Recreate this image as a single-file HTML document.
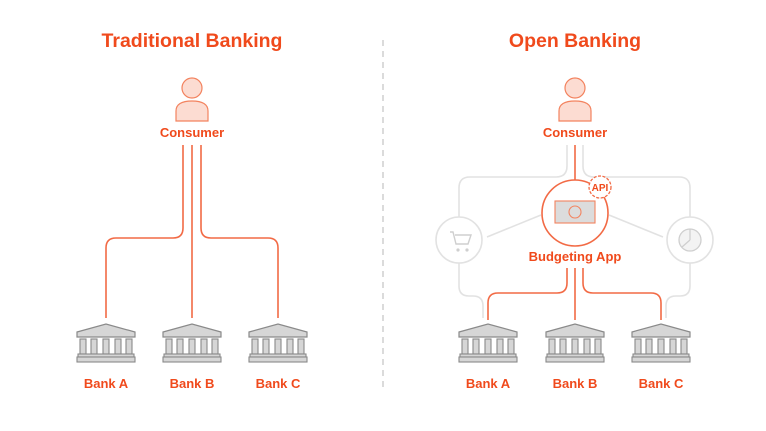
<!DOCTYPE html>
<html><head><meta charset="utf-8"><style>
html,body{margin:0;padding:0;background:#fff;}
svg{display:block;}
text{font-family:"Liberation Sans",sans-serif;font-weight:bold;fill:#f04a1c;text-anchor:middle;}
</style></head><body>
<svg width="766" height="431" viewBox="0 0 766 431" xmlns="http://www.w3.org/2000/svg">
<defs>
<g id="bank">
 <path d="M-29,6 L0,-2 L29,6 L29,11 L-29,11 Z" fill="#d6d6d6" stroke="#8a8a8a" stroke-width="1.2"/>
 <g fill="#d6d6d6" stroke="#8a8a8a" stroke-width="1.1">
  <rect x="-26" y="13" width="6" height="15"/><rect x="-15" y="13" width="6" height="15"/><rect x="-3" y="13" width="6" height="15"/><rect x="9" y="13" width="6" height="15"/><rect x="20" y="13" width="6" height="15"/>
  <rect x="-28" y="28" width="56" height="3"/>
  <rect x="-29" y="31" width="58" height="5"/>
 </g>
</g>
<g id="person">
 <circle cx="0" cy="-8" r="10" fill="#fcdcd2" stroke="#f3835f" stroke-width="1.2"/>
 <path d="M-16,25 V15 Q-16,5 0,5 Q16,5 16,15 V25 Z" fill="#fcdcd2" stroke="#f3835f" stroke-width="1.2"/>
</g>
</defs>

<text x="192" y="47" font-size="19.5">Traditional Banking</text>
<text x="575" y="47" font-size="19.5">Open Banking</text>
<line x1="383" y1="40" x2="383" y2="390" stroke="#cfcfcf" stroke-width="1.5" stroke-dasharray="6,5"/>

<!-- left -->
<use href="#person" x="192" y="96"/>
<text x="192" y="137" font-size="13">Consumer</text>
<g fill="none" stroke="#f26a45" stroke-width="1.6">
 <path d="M183,145 V228 Q183,238 173,238 H116 Q106,238 106,248 V318"/>
 <path d="M192,145 V318"/>
 <path d="M201,145 V228 Q201,238 211,238 H268 Q278,238 278,248 V318"/>
</g>
<use href="#bank" x="106" y="326"/>
<use href="#bank" x="192" y="326"/>
<use href="#bank" x="278" y="326"/>
<text x="106" y="388" font-size="13">Bank A</text>
<text x="192" y="388" font-size="13">Bank B</text>
<text x="278" y="388" font-size="13">Bank C</text>

<!-- right -->
<use href="#person" x="575" y="96"/>
<text x="575" y="137" font-size="13">Consumer</text>
<g fill="none" stroke="#e2e2e2" stroke-width="1.6">
 <path d="M567,145 V166 Q567,177 556,177 H470 Q459,177 459,188 V217"/>
 <path d="M583,145 V166 Q583,177 594,177 H679 Q690,177 690,188 V217"/>
 <path d="M459,263 V286 Q459,296 469,296 H473 Q483,296 483,306 V318"/>
 <path d="M690,263 V286 Q690,296 680,296 H676 Q666,296 666,306 V318"/>
 <path d="M541,215 L487,237"/>
 <path d="M609,215 L663,237"/>
</g>
<circle cx="459" cy="240" r="23" fill="#fff" stroke="#e2e2e2" stroke-width="1.6"/>
<path d="M450,232 h3 l3,12 h12 l3,-9 h-16" fill="none" stroke="#cfcfcf" stroke-width="1.4"/>
<circle cx="458" cy="250" r="1.6" fill="#cfcfcf"/><circle cx="467" cy="250" r="1.6" fill="#cfcfcf"/>
<circle cx="690" cy="240" r="23" fill="#fff" stroke="#e2e2e2" stroke-width="1.6"/>
<circle cx="690" cy="240" r="11" fill="#f3f3f3" stroke="#cfcfcf" stroke-width="1.3"/>
<path d="M690,240 V229 M690,240 L682,247" stroke="#cfcfcf" stroke-width="1.3"/>

<g fill="none" stroke="#f26a45" stroke-width="1.6">
 <path d="M575,145 V180"/>
 <path d="M567,268 V283 Q567,293 557,293 H498 Q488,293 488,303 V320"/>
 <path d="M575,268 V320"/>
 <path d="M583,268 V283 Q583,293 593,293 H651 Q661,293 661,303 V320"/>
</g>
<circle cx="575" cy="213" r="33" fill="#fff" stroke="#f26a45" stroke-width="1.6"/>
<rect x="555" y="201" width="40" height="22" fill="#dcdcdc" stroke="#f3835f" stroke-width="1.1"/>
<circle cx="575" cy="212" r="6" fill="none" stroke="#f3835f" stroke-width="1.1"/>
<circle cx="600" cy="187" r="11" fill="#fff" stroke="#f26a45" stroke-width="1.3" stroke-dasharray="3,1.5"/>
<text x="600" y="191" font-size="10">API</text>
<text x="575" y="261" font-size="13">Budgeting App</text>

<use href="#bank" x="488" y="326"/>
<use href="#bank" x="575" y="326"/>
<use href="#bank" x="661" y="326"/>
<text x="488" y="388" font-size="13">Bank A</text>
<text x="575" y="388" font-size="13">Bank B</text>
<text x="661" y="388" font-size="13">Bank C</text>
</svg>
</body></html>
